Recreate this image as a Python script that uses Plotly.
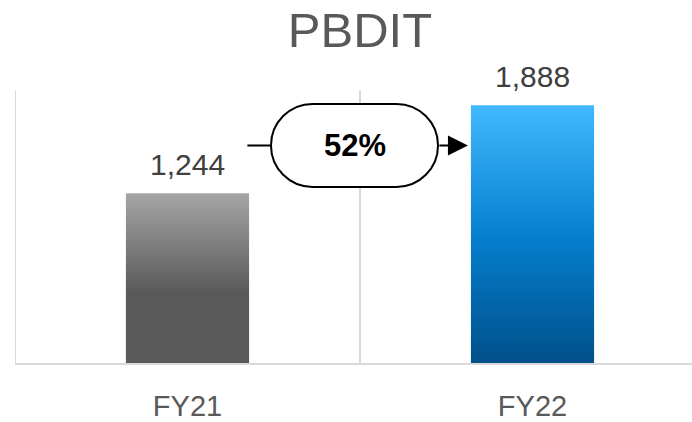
import plotly.graph_objects as go

categories = ["FY21", "FY22"]
values = [1244, 1888]
value_labels = ["1,244", "1,888"]
growth_label = "52%"

BAR_W = 0.357
gradients = [
    [[0, "#595959"], [0.41, "#595959"], [1, "#a6a6a6"]],
    [[0, "#00508a"], [0.5, "#0680d0"], [1, "#42b9ff"]],
]

fig = go.Figure()
for i, (c, v) in enumerate(zip(categories, values)):
    fig.add_trace(go.Scatter(
        x=[i - BAR_W / 2, i + BAR_W / 2, i + BAR_W / 2, i - BAR_W / 2, i - BAR_W / 2],
        y=[0, 0, v, v, 0],
        mode="lines", line=dict(width=0), fill="toself",
        fillgradient=dict(type="vertical", colorscale=gradients[i]),
        hoverinfo="skip", showlegend=False,
    ))
    fig.add_annotation(x=i, y=v, text=value_labels[i], showarrow=False,
                       yanchor="bottom", yshift=10,
                       font=dict(size=30, color="#404040", family="Liberation Sans, Arial"))

# gridlines at category boundaries
for gx in [-0.5, 0.5]:
    fig.add_shape(type="line", xref="x", yref="y", x0=gx, x1=gx, y0=0, y1=2000,
                  line=dict(color="#d9d9d9", width=2), layer="below")

# growth connector
yc = 1594
fig.add_shape(type="line", xref="x", yref="y", x0=BAR_W / 2 - 0.005, x1=0.48, y0=yc, y1=yc,
              line=dict(color="black", width=2))
r = 41.5
k = 0.5523 * r
hl, hr = 89 - r, 78 - r
path = (f"M {-hl},{r} L {hr},{r} "
        f"C {hr + k},{r} {hr + r},{k} {hr + r},0 "
        f"C {hr + r},{-k} {hr + k},{-r} {hr},{-r} "
        f"L {-hl},{-r} "
        f"C {-hl - k},{-r} {-hl - r},{-k} {-hl - r},0 "
        f"C {-hl - r},{k} {-hl - k},{r} {-hl},{r} Z")
fig.add_shape(type="path", xref="x", yref="y", xsizemode="pixel", ysizemode="pixel",
              xanchor=0.5, yanchor=yc, path=path,
              fillcolor="white", line=dict(color="black", width=2))
fig.add_annotation(x=0.5, y=yc, xshift=-5, text=f"<b>{growth_label}</b>", showarrow=False,
                   font=dict(size=31, color="black", family="Liberation Sans, Arial"))
fig.add_annotation(x=1 - BAR_W / 2, y=yc, ax=-33, ay=0, text="", showarrow=True,
                   arrowhead=2, arrowsize=2, arrowwidth=2, arrowcolor="black", standoff=3)

fig.update_layout(
    width=692, height=422,
    margin=dict(l=15, r=0, t=90, b=56),
    paper_bgcolor="white", plot_bgcolor="white",
    title=dict(text="PBDIT", x=360 / 692, xref="container", xanchor="center",
               y=0.93, yanchor="middle",
               font=dict(size=49, color="#595959", family="Liberation Sans, Arial")),
    xaxis=dict(range=[-0.5, -0.5 + 677 / 345], tickvals=[0, 1], ticktext=categories,
               showgrid=False, zeroline=False, showline=True, linecolor="#d9d9d9", linewidth=2,
               ticks="", ticklabelstandoff=16,
               tickfont=dict(size=29, color="#595959", family="Liberation Sans, Arial")),
    yaxis=dict(range=[0, 2000], visible=False),
    showlegend=False,
)

fig.write_html("out.html", config={"displayModeBar": False},
               post_script="document.body.style.margin='0px';")
